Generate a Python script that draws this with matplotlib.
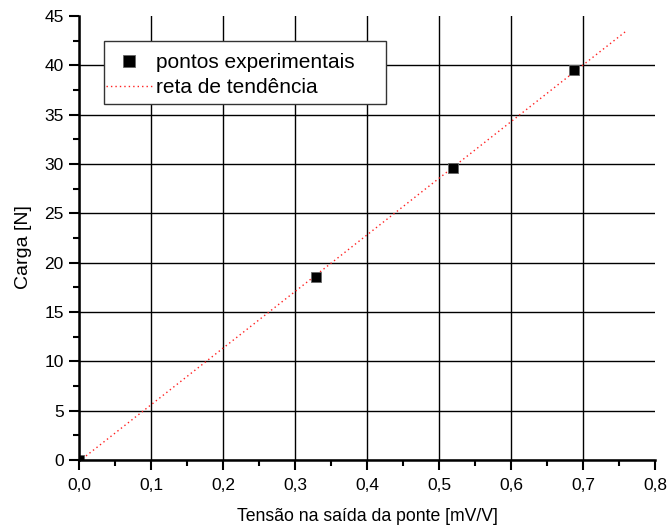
import numpy as np
import matplotlib
matplotlib.use("Agg")
import matplotlib.pyplot as plt
from matplotlib.ticker import MultipleLocator, FuncFormatter
from matplotlib.patches import Rectangle

plt.rcParams['font.family'] = ['Liberation Sans', 'DejaVu Sans']

# measured bridge output [mV/V] and applied load [N]
tensao = [0.0, 0.329, 0.520, 0.6875]
carga = [0.0, 18.5, 29.6, 39.5]

x_ticks = [0.0, 0.1, 0.2, 0.3, 0.4, 0.5, 0.6, 0.7, 0.8]
y_ticks = [0, 5, 10, 15, 20, 25, 30, 35, 40, 45]

# linear trend fitted to the measurements
b, a = np.polyfit(tensao, carga, 1)
x_fit = np.array([0.0, 0.76])
y_fit = a + b * x_fit

fig = plt.figure(figsize=(6.71, 5.31), dpi=100)
ax = fig.add_axes([79/671, 71/531, 576/671, 444/531])

ax.plot(x_fit, y_fit, linestyle=(0, (1, 2.2)), color='#ff2020', linewidth=1.0,
        label='reta de tendência', zorder=3)
ax.plot(tensao, carga, linestyle='none', marker='s', markersize=7,
        markerfacecolor='black', markeredgecolor='#666666', markeredgewidth=0.6,
        label='pontos experimentais', zorder=4)

ax.set_xlim(x_ticks[0], x_ticks[-1])
ax.set_ylim(y_ticks[0], y_ticks[-1])
ax.set_xticks(x_ticks)
ax.set_yticks(y_ticks)
ax.xaxis.set_minor_locator(MultipleLocator(0.05))
ax.yaxis.set_minor_locator(MultipleLocator(2.5))
ax.xaxis.set_major_formatter(FuncFormatter(lambda v, p: f"{v:.1f}".replace('.', ',')))
ax.yaxis.set_major_formatter(FuncFormatter(lambda v, p: f"{v:.0f}"))

ax.grid(True, which='major', color='black', linewidth=1.0)
ax.set_axisbelow(True)
# no grid line along the open top and right edges
ax.xaxis.get_major_ticks()[-1].gridline.set_visible(False)
ax.yaxis.get_major_ticks()[-1].gridline.set_visible(False)
for s in ('top', 'right'):
    ax.spines[s].set_visible(False)
for s in ('left', 'bottom'):
    ax.spines[s].set_linewidth(1.8)
    ax.spines[s].set_zorder(5)

ax.tick_params(which='major', direction='out', length=7, width=1.5, labelsize=12.5, pad=4)
ax.tick_params(axis='x', which='major', pad=6)
ax.tick_params(which='minor', direction='out', length=4, width=1.5)

ax.set_xlabel('Tensão na saída da ponte [mV/V]', fontsize=12.7, labelpad=11)
ax.set_ylabel('Carga [N]', fontsize=14)
ax.yaxis.set_label_coords(-0.0816, 0.48)

# legend box with wider right margin
box = Rectangle((0.0434, 0.8018), 0.4896, 0.1419, transform=ax.transAxes,
                facecolor='white', edgecolor='#333333', linewidth=1.0, zorder=6)
ax.add_patch(box)

handles, labels = ax.get_legend_handles_labels()
leg = ax.legend(handles[::-1], labels[::-1], loc='upper left',
                bbox_to_anchor=(0.047, 0.916), fontsize=15,
                frameon=False, handlelength=2.2, handletextpad=0.2,
                borderpad=0, labelspacing=0.28, borderaxespad=0, markerscale=1.3)
leg.set_zorder(7)

fig.savefig('out.png', dpi=100)
